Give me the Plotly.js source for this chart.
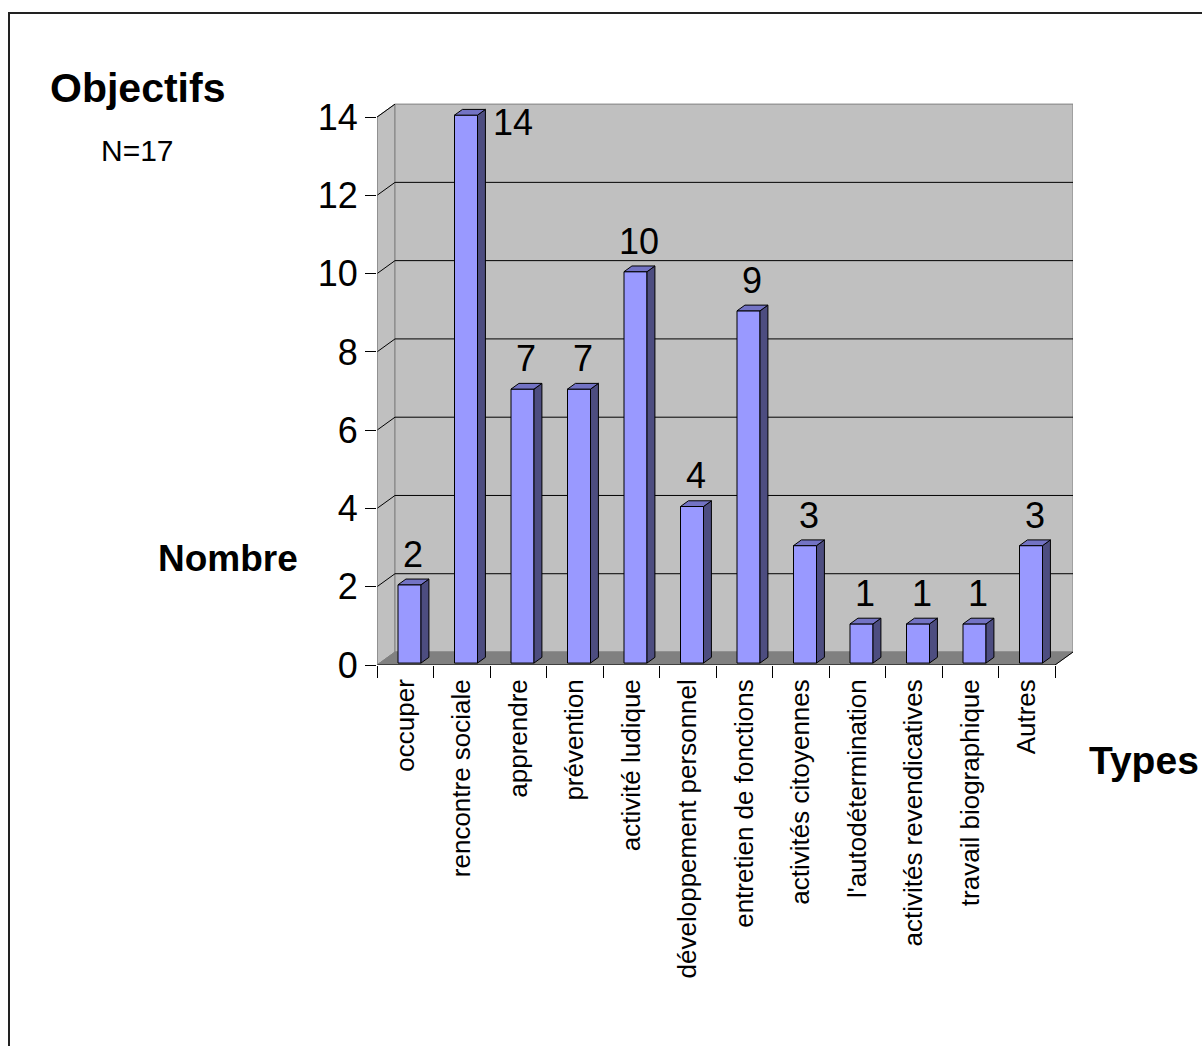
<!DOCTYPE html>
<html>
<head>
<meta charset="utf-8">
<script src="https://cdn.plot.ly/plotly-3.0.1.min.js"></script>
<style>html,body{margin:0;padding:0;background:#fff;}#chart{width:1202px;height:1046px;}</style>
</head>
<body>
<div id="chart"></div>
<script>
// ---- data ----
const categories = ["occuper", "rencontre sociale", "apprendre", "prévention", "activité ludique",
  "développement personnel", "entretien de fonctions", "activités citoyennes", "l'autodétermination",
  "activités revendicatives", "travail biographique", "Autres"];
const values = [2, 14, 7, 7, 10, 4, 9, 3, 1, 1, 1, 3];
const yTicks = [0, 2, 4, 6, 8, 10, 12, 14];
const chartTitle = "Objectifs";
const subTitle = "N=17";
const yTitle = "Nombre";
const xTitle = "Types";

// ---- 3D projection helpers ----
const FONT = "Liberation Sans, Arial, sans-serif";
const n = categories.length;
const yMaxTick = yTicks[yTicks.length - 1];
const Dx = 0.3186, Dy = 0.332;        // full depth offset (axis units)
const xMin = -0.5, xMaxFront = n - 0.5;
const xRange = [xMin, xMaxFront + Dx];
const yRange = [0, yMaxTick + 0.36];
const a = 0.324, b = 0.731;           // bar front face within category slot
const t0 = 0.15, t1 = 0.59;           // bar depth span

const shapes = [];
const pathOf = pts => "M" + pts.map(p => p[0] + "," + p[1]).join(" L") + " Z";
// side wall
shapes.push({type: "path", xref: "x2", yref: "y", layer: "below",
  path: pathOf([[xMin, 0], [xMin, yMaxTick], [xMin + Dx, yMaxTick + Dy], [xMin + Dx, Dy]]),
  fillcolor: "#c0c0c0", line: {color: "#808080", width: 1}});
// back wall
shapes.push({type: "rect", xref: "x2", yref: "y", layer: "below",
  x0: xMin + Dx, x1: xMaxFront + Dx, y0: Dy, y1: yMaxTick + Dy,
  fillcolor: "#c0c0c0", line: {color: "#808080", width: 1}});
// gridlines
yTicks.forEach(v => {
  if (v === 0) return;
  shapes.push({type: "line", xref: "x2", yref: "y", layer: "below",
    x0: xMin, y0: v, x1: xMin + Dx, y1: v + Dy, line: {color: "#000", width: 1}});
  if (v !== yMaxTick) shapes.push({type: "line", xref: "x2", yref: "y", layer: "below",
    x0: xMin + Dx, y0: v + Dy, x1: xMaxFront + Dx, y1: v + Dy, line: {color: "#000", width: 1}});
});
// floor
shapes.push({type: "path", xref: "x2", yref: "y", layer: "below",
  path: pathOf([[xMin, 0], [xMaxFront, 0], [xMaxFront + Dx, Dy], [xMin + Dx, Dy]]),
  fillcolor: "#808080", line: {color: "#808080", width: 1}});
// front floor edge and right floor edge
shapes.push({type: "line", xref: "x2", yref: "y", x0: xMin, y0: 0, x1: xMaxFront, y1: 0, line: {color: "#000", width: 1}});
shapes.push({type: "line", xref: "x2", yref: "y", x0: xMaxFront, y0: 0, x1: xMaxFront + Dx, y1: Dy, line: {color: "#000", width: 1}});
// left front edge
shapes.push({type: "line", xref: "x2", yref: "y", x0: xMin, y0: 0, x1: xMin, y1: yMaxTick, line: {color: "#808080", width: 1}});
// outer frame
shapes.push({type: "rect", xref: "paper", yref: "paper", x0: (9 - 377) / 696, x1: 3, y0: -3, y1: (665 - 13) / 562,
  fillcolor: "rgba(0,0,0,0)", line: {color: "#222", width: 2}});

// bar side & top faces
const sideX = [], sideY = [], topX = [], topY = [];
values.forEach((v, i) => {
  const xl = i - 0.5 + a, xr = i - 0.5 + b;
  [[xr + t0 * Dx, t0 * Dy], [xr + t1 * Dx, t1 * Dy], [xr + t1 * Dx, v + t1 * Dy], [xr + t0 * Dx, v + t0 * Dy], [xr + t0 * Dx, t0 * Dy]]
    .forEach(p => { sideX.push(p[0]); sideY.push(p[1]); });
  sideX.push(null); sideY.push(null);
  [[xl + t0 * Dx, v + t0 * Dy], [xr + t0 * Dx, v + t0 * Dy], [xr + t1 * Dx, v + t1 * Dy], [xl + t1 * Dx, v + t1 * Dy], [xl + t0 * Dx, v + t0 * Dy]]
    .forEach(p => { topX.push(p[0]); topY.push(p[1]); });
  topX.push(null); topY.push(null);
});

const traces = [
  {type: "bar", x: categories, y: values, base: t0 * Dy, offset: -0.5 + a + t0 * Dx, width: b - a,
   marker: {color: "#9999ff", line: {color: "#000", width: 1}}, hoverinfo: "x+y", xaxis: "x", yaxis: "y"},
  {type: "scatter", mode: "lines", x: sideX, y: sideY, fill: "toself", fillcolor: "#4d4d80",
   line: {color: "#000", width: 1}, hoverinfo: "skip", xaxis: "x2", yaxis: "y"},
  {type: "scatter", mode: "lines", x: topX, y: topY, fill: "toself", fillcolor: "#7373c4",
   line: {color: "#000", width: 1}, hoverinfo: "skip", xaxis: "x2", yaxis: "y"}
];

// value labels
const LBL = 36;
const annotations = values.map((v, i) => {
  const over = v + 1.2 > yRange[1];
  if (over) {
    return {xref: "x2", yref: "y", x: i - 0.5 + b + t1 * Dx, y: v, xanchor: "left", yanchor: "middle",
      xshift: 6, yshift: -5, text: String(v), showarrow: false, font: {family: FONT, size: LBL, color: "#000"}};
  }
  return {xref: "x2", yref: "y", x: i - 0.5 + (a + b) / 2 + ((t0 + t1) / 2) * Dx, y: v,
    xanchor: "center", yanchor: "bottom", yshift: 10, text: String(v), showarrow: false,
    font: {family: FONT, size: LBL, color: "#000"}};
});
const px = x => (x - 377) / 696, py = y => (665 - y) / 562;
annotations.push({xref: "paper", yref: "paper", x: px(48), y: py(88), xanchor: "left", yanchor: "middle",
  text: "<b>" + chartTitle + "</b>", showarrow: false, font: {family: FONT, size: 41, color: "#000"}});
annotations.push({xref: "paper", yref: "paper", x: px(99), y: py(151), xanchor: "left", yanchor: "middle",
  text: subTitle, showarrow: false, font: {family: FONT, size: 30, color: "#000"}});
annotations.push({xref: "paper", yref: "paper", x: px(156), y: py(558), xanchor: "left", yanchor: "middle",
  text: "<b>" + yTitle + "</b>", showarrow: false, font: {family: FONT, size: 37, color: "#000"}});
annotations.push({xref: "paper", yref: "paper", x: px(1087), y: py(761), xanchor: "left", yanchor: "middle",
  text: "<b>" + xTitle + "</b>", showarrow: false, font: {family: FONT, size: 39, color: "#000"}});

const layout = {
  width: 1202, height: 1046,
  margin: {l: 377, r: 129, t: 103, b: 381},
  paper_bgcolor: "#fff", plot_bgcolor: "rgba(0,0,0,0)",
  showlegend: false,
  font: {family: FONT, color: "#000"},
  xaxis: {type: "category", categoryorder: "array", categoryarray: categories, range: xRange,
    autorange: false, tickson: "boundaries", ticks: "outside", ticklen: 12, tickcolor: "#000", tickwidth: 1,
    tickangle: -90, ticklabelstandoff: 8, tickfont: {family: FONT, size: 26, color: "#000"},
    showgrid: false, showline: false, zeroline: false, fixedrange: true},
  xaxis2: {overlaying: "x", type: "linear", range: xRange, autorange: false, visible: false, fixedrange: true},
  yaxis: {range: yRange, autorange: false, tickvals: yTicks, ticktext: yTicks.map(String),
    ticks: "outside", ticklen: 11, tickcolor: "#000", tickwidth: 1,
    tickfont: {family: FONT, size: 36, color: "#000"},
    showgrid: false, showline: false, zeroline: false, fixedrange: true},
  shapes: shapes,
  annotations: annotations,
  bargap: 0
};

Plotly.newPlot("chart", traces, layout, {displayModeBar: false, staticPlot: true});
</script>
</body>
</html>
